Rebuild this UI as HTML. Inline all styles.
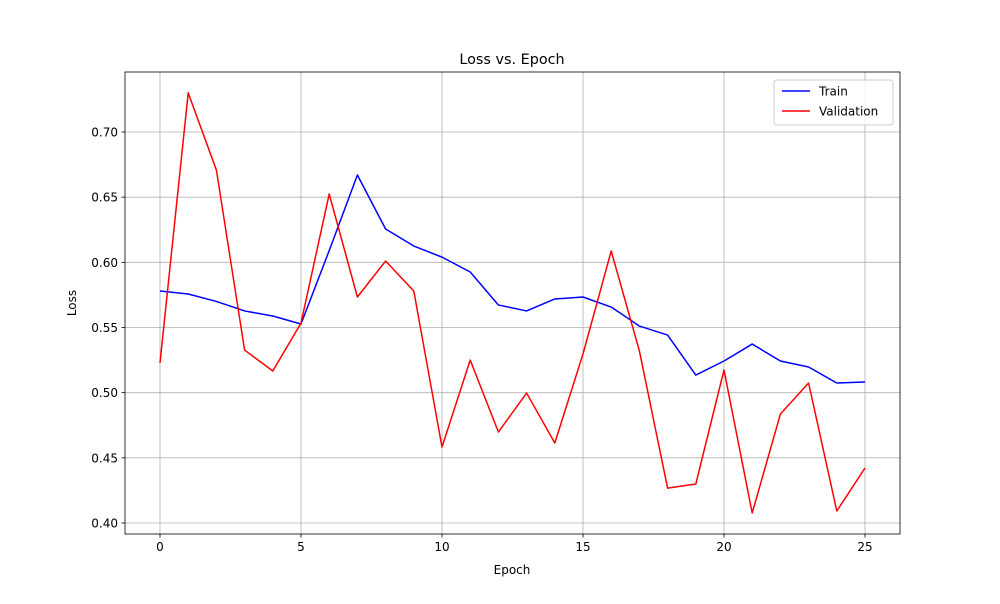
<!DOCTYPE html>
<html><head><meta charset="utf-8"><style>
body{margin:0;background:#fff;font-family:"DejaVu Sans","Liberation Sans",sans-serif;}
svg text{font-family:"DejaVu Sans","Liberation Sans",sans-serif;}
</style></head><body>
<svg id="chart" width="1000" height="600" xmlns="http://www.w3.org/2000/svg"></svg>
<script>
const epochs=[0,1,2,3,4,5,6,7,8,9,10,11,12,13,14,15,16,17,18,19,20,21,22,23,24,25];
const trainLoss=[0.578,0.5757,0.570,0.5627,0.5588,0.5527,0.609,0.667,0.6256,0.6125,0.604,0.5926,0.5673,0.5627,0.5719,0.5734,0.5657,0.5511,0.5442,0.5135,0.5243,0.5373,0.5243,0.5197,0.5074,0.5082];
const valLoss=[0.5228,0.730,0.6708,0.5327,0.5166,0.5534,0.6524,0.5734,0.601,0.578,0.4583,0.525,0.4698,0.4997,0.4614,0.5297,0.6087,0.532,0.4268,0.4299,0.5174,0.4077,0.4836,0.5074,0.4092,0.4422];
const xTicks=[0,5,10,15,20,25];
const yTicks=[0.40,0.45,0.50,0.55,0.60,0.65,0.70];
const L=125,R=900,T=72,B=534;
const xs=v=>160+(v-0)*(865-160)/25;
const ys=v=>132+(0.70-v)*(523-132)/0.30;
const NS="http://www.w3.org/2000/svg";
const svg=document.getElementById('chart');
function mk(tag,attrs,parent){const e=document.createElementNS(NS,tag);for(const k in attrs)e.setAttribute(k,attrs[k]);(parent||svg).appendChild(e);return e;}
const grid=mk('g',{});


xTicks.forEach(t=>{const x=xs(t);
 mk('line',{x1:x,x2:x,y1:T,y2:B,stroke:'#b0b0b0','stroke-width':0.8},grid);
 mk('line',{x1:x,x2:x,y1:B,y2:B+3.5,stroke:'#000','stroke-width':0.8});
 const tx=mk('text',{x:x,y:B+17,'font-size':12,'text-anchor':'middle'});tx.textContent=t;
 
 });
yTicks.forEach(t=>{const y=ys(t);
 mk('line',{x1:L,x2:R,y1:y,y2:y,stroke:'#b0b0b0','stroke-width':0.8},grid);
 mk('line',{x1:L-3.5,x2:L,y1:y,y2:y,stroke:'#000','stroke-width':0.8});
 const tx=mk('text',{x:L-7,y:y+4.5,'font-size':12,'text-anchor':'end'});tx.textContent=t.toFixed(2);
 
 });
function line(data,color,name){const p=mk('polyline',{points:data.map((v,i)=>xs(epochs[i])+','+ys(v)).join(' '),fill:'none',stroke:color,'stroke-width':1.5,'stroke-linejoin':'round'});
 
 }
line(trainLoss,'#0000ff','train-line');
line(valLoss,'#ff0000','validation-line');
mk('rect',{x:L,y:T,width:R-L,height:B-T,fill:'none',stroke:'#000','stroke-width':0.8});
let t=mk('text',{x:512,y:64,'font-size':14.4,'text-anchor':'middle'});t.textContent='Loss vs. Epoch';

t=mk('text',{x:512,y:574,'font-size':12,'text-anchor':'middle'});t.textContent='Epoch';

t=mk('text',{x:76,y:303,'font-size':12,'text-anchor':'middle',transform:'rotate(-90 76 303)'});t.textContent='Loss';

const lg=mk('g',{});


mk('rect',{x:774,y:80,width:119,height:45,rx:3,fill:'#fff','fill-opacity':0.8,stroke:'#ccc'},lg);
mk('line',{x1:782,x2:810,y1:91,y2:91,stroke:'#0000ff','stroke-width':1.5},lg);
t=mk('text',{x:819,y:95.5,'font-size':12},lg);t.textContent='Train';

mk('line',{x1:782,x2:810,y1:111,y2:111,stroke:'#ff0000','stroke-width':1.5},lg);
t=mk('text',{x:819,y:115.5,'font-size':12},lg);t.textContent='Validation';

</script>
</body></html>
